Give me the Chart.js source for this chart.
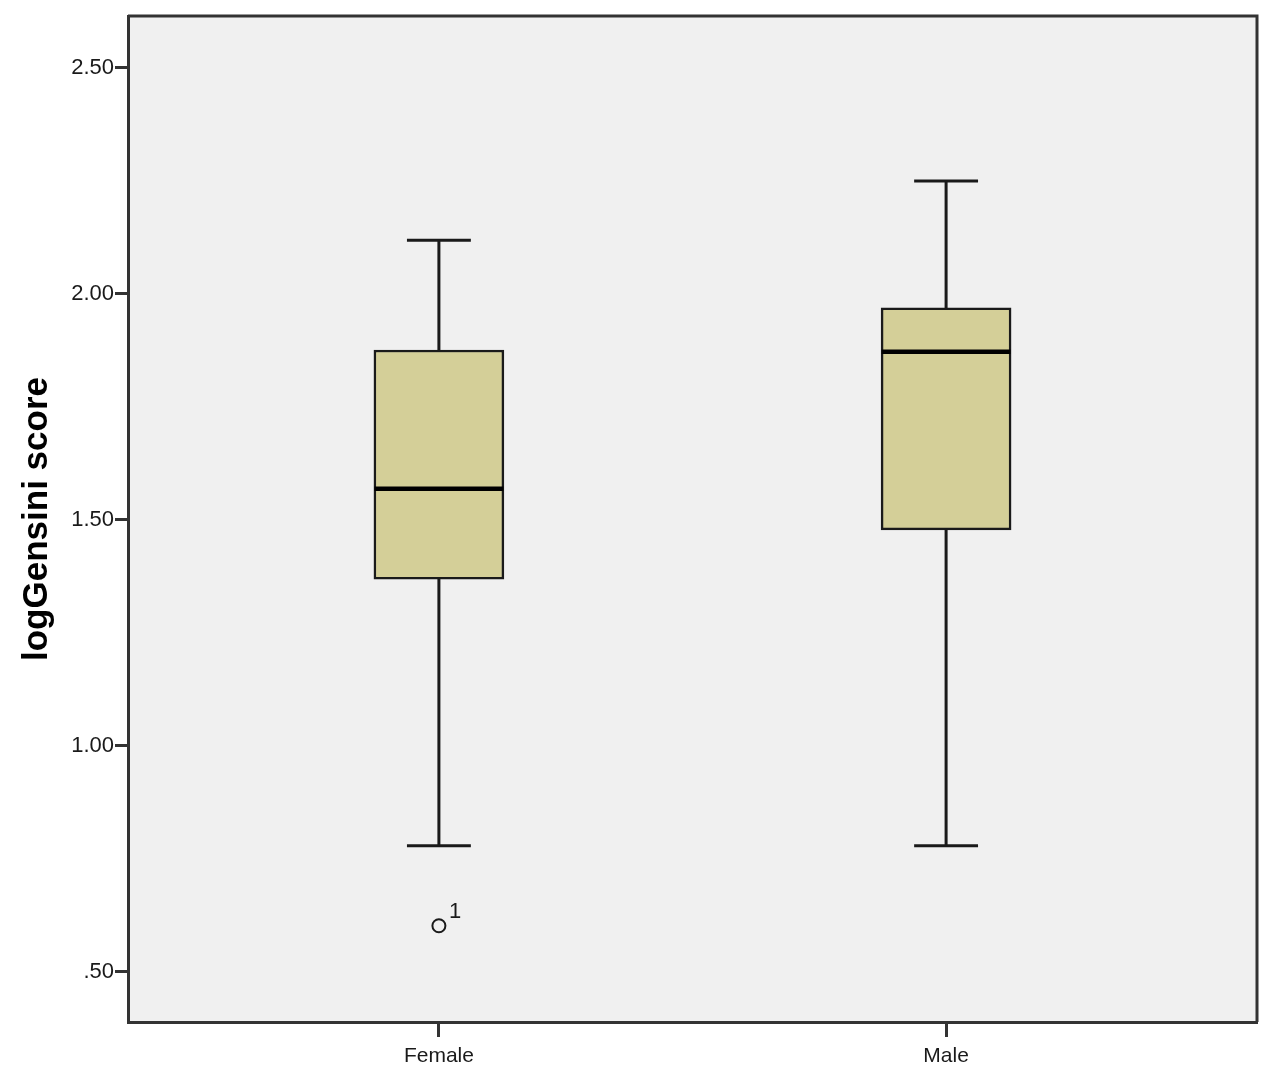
<!DOCTYPE html>
<html>
<head>
<meta charset="utf-8">
<title>logGensini score by sex</title>
<script src="https://cdn.jsdelivr.net/npm/chart.js@4/dist/chart.umd.min.js"></script>
<style>
  html, body { margin: 0; padding: 0; background: #ffffff; }
  #boxChart { display: block; }
</style>
</head>
<body>
<canvas id="boxChart" width="1282" height="1085"></canvas>
<script>
// Data
const groups = ["Female", "Male"];
const whiskerLow = [0.779, 0.779];
const q1 = [1.369, 1.478];
const median = [1.569, 1.872];
const q3 = [1.876, 1.969];
const whiskerHigh = [2.119, 2.25];

const outlierGroup = [1];
const outlierValues = [0.602];
const outlierIds = ["1"];

const yTicks = [0.5, 1.0, 1.5, 2.0, 2.5];

const FONT = "'Liberation Sans', Arial, sans-serif";
const INK = "#1a1a1a";
const AXIS = "#333333";
const BOX_HALF = 0.127;
const CAP_HALF = 0.063;

// build segment lists (null breaks the line between segments)
function whiskerPoints() {
  const pts = [];
  groups.forEach((g, i) => {
    const x = i + 1;
    pts.push({ x: x, y: q3[i] }, { x: x, y: whiskerHigh[i] }, { x: x, y: null });
    pts.push({ x: x - CAP_HALF, y: whiskerHigh[i] }, { x: x + CAP_HALF, y: whiskerHigh[i] }, { x: x, y: null });
    pts.push({ x: x, y: q1[i] }, { x: x, y: whiskerLow[i] }, { x: x, y: null });
    pts.push({ x: x - CAP_HALF, y: whiskerLow[i] }, { x: x + CAP_HALF, y: whiskerLow[i] }, { x: x, y: null });
  });
  return pts;
}

function medianPoints() {
  const pts = [];
  groups.forEach((g, i) => {
    const x = i + 1;
    pts.push({ x: x - BOX_HALF, y: median[i] }, { x: x + BOX_HALF, y: median[i] }, { x: x, y: null });
  });
  return pts;
}

const plotFrame = {
  id: "plotFrame",
  beforeDraw(chart) {
    const { ctx, chartArea: a } = chart;
    ctx.save();
    ctx.fillStyle = "#f0f0f0";
    ctx.fillRect(a.left, a.top, a.right - a.left, a.bottom - a.top);
    ctx.restore();
  },
  afterDraw(chart) {
    const { ctx, chartArea: a } = chart;
    ctx.save();
    ctx.strokeStyle = AXIS;
    ctx.lineWidth = 3;
    ctx.beginPath();
    ctx.moveTo(a.left, a.top);
    ctx.lineTo(a.right, a.top);
    ctx.lineTo(a.right, a.bottom);
    ctx.stroke();
    ctx.restore();
  },
};

const outlierLabels = {
  id: "outlierLabels",
  afterDatasetsDraw(chart) {
    const ctx = chart.ctx;
    const meta = chart.getDatasetMeta(3);
    ctx.save();
    ctx.fillStyle = INK;
    ctx.font = "22px " + FONT;
    ctx.textAlign = "left";
    ctx.textBaseline = "alphabetic";
    meta.data.forEach((pt, i) => {
      ctx.fillText(outlierIds[i], pt.x + 10, pt.y - 8);
    });
    ctx.restore();
  },
};

new Chart(document.getElementById("boxChart"), {
  type: "bar",
  data: {
    datasets: [
      {
        type: "bar",
        data: groups.map((g, i) => ({ x: i + 1, y: [q1[i], q3[i]] })),
        backgroundColor: "#d4cf98",
        borderColor: INK,
        borderWidth: 2.5,
        borderSkipped: false,
        barThickness: 130,
        order: 3,
      },
      {
        type: "line",
        data: whiskerPoints(),
        borderColor: INK,
        borderWidth: 3,
        borderCapStyle: "butt",
        pointRadius: 0,
        spanGaps: false,
        fill: false,
        order: 2,
      },
      {
        type: "line",
        data: medianPoints(),
        borderColor: "#000000",
        borderWidth: 4.5,
        borderCapStyle: "butt",
        pointRadius: 0,
        spanGaps: false,
        fill: false,
        order: 1,
      },
      {
        type: "scatter",
        data: outlierGroup.map((g, i) => ({ x: g, y: outlierValues[i] })),
        pointStyle: "circle",
        pointRadius: 6.5,
        pointBorderWidth: 2,
        pointBackgroundColor: "#f0f0f0",
        pointBorderColor: INK,
        order: 0,
      },
    ],
  },
  options: {
    responsive: false,
    animation: false,
    events: [],
    layout: { padding: { top: 16, right: 25, bottom: 0, left: 0 } },
    plugins: {
      legend: { display: false },
      tooltip: { enabled: false },
    },
    scales: {
      x: {
        type: "linear",
        min: 0.387,
        max: 2.613,
        offset: false,
        afterFit: (s) => { s.height = 63; },
        afterBuildTicks: (s) => { s.ticks = groups.map((g, i) => ({ value: i + 1 })); },
        border: { display: true, color: AXIS, width: 3 },
        grid: {
          display: true,
          offset: false,
          drawOnChartArea: false,
          drawTicks: true,
          tickLength: 15,
          tickWidth: 3,
          tickColor: AXIS,
        },
        ticks: {
          autoSkip: false,
          maxRotation: 0,
          padding: 7,
          color: INK,
          font: { family: FONT, size: 21 },
          callback: (v) => groups[v - 1],
        },
      },
      y: {
        min: 0.389,
        max: 2.615,
        afterFit: (s) => { s.width = 128; },
        afterBuildTicks: (s) => { s.ticks = yTicks.map((v) => ({ value: v })); },
        border: { display: true, color: AXIS, width: 3 },
        grid: {
          display: true,
          drawOnChartArea: false,
          drawTicks: true,
          tickLength: 13,
          tickWidth: 3,
          tickColor: AXIS,
        },
        ticks: {
          padding: 1,
          color: INK,
          font: { family: FONT, size: 22 },
          callback: (v) => v.toFixed(2).replace(/^0\./, "."),
        },
        title: {
          display: true,
          text: "logGensini score",
          color: "#000000",
          padding: { top: 16, bottom: 0 },
          font: { family: FONT, size: 35, weight: "bold" },
        },
      },
    },
  },
  plugins: [plotFrame, outlierLabels],
});
</script>
</body>
</html>
